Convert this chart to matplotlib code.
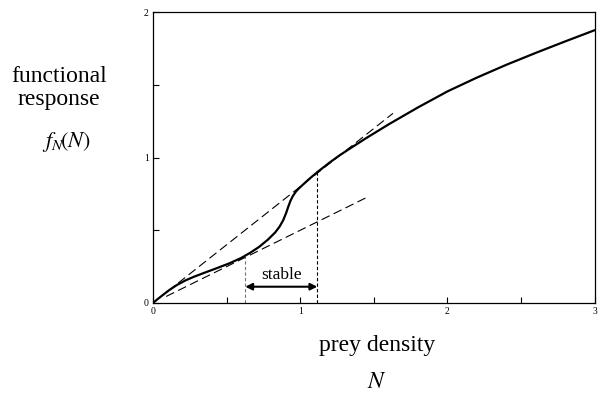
import matplotlib
matplotlib.use("Agg")
import matplotlib.pyplot as plt

# Data
N = [0, 0.035, 0.07, 0.11, 0.16, 0.22, 0.28, 0.35, 0.43, 0.52, 0.6, 0.66, 0.72, 0.78, 0.83,
     0.86, 0.885, 0.905, 0.92, 0.935, 0.95, 0.97, 0.99, 1.02, 1.06, 1.12, 1.2, 1.27, 1.35,
     1.45, 1.6, 1.8, 2.0, 2.2, 2.4, 2.6, 2.8, 3.0]
fN = [0, 0.029, 0.057, 0.088, 0.122, 0.155, 0.181, 0.208, 0.238, 0.273, 0.31, 0.345, 0.385,
      0.435, 0.485, 0.525, 0.57, 0.62, 0.665, 0.705, 0.735, 0.765, 0.787, 0.815, 0.852,
      0.903, 0.966, 1.017, 1.07, 1.135, 1.228, 1.345, 1.455, 1.55, 1.638, 1.72, 1.799, 1.876]
upper_slope = 0.8
upper_range = [0.1, 1.63]
lower_slope = 0.5
lower_range = [0.09, 1.45]
stable_lo, stable_hi = 0.627, 1.116
stable_lo_y, stable_hi_y = 0.315, 0.91
arrow_y = 0.112

plt.rcParams['font.family'] = ['Liberation Serif', 'DejaVu Serif']
plt.rcParams['mathtext.fontset'] = 'stix'

fig = plt.figure(figsize=(6.02, 4.04), dpi=100)
ax = fig.add_axes([0.254, 0.25, 0.734, 0.72])

ax.plot(N, fN, color='black', lw=1.6, solid_joinstyle='round', solid_capstyle='round')
ax.plot(upper_range, [upper_slope * v for v in upper_range], color='black', lw=0.8,
        dashes=(8, 4))
ax.plot(lower_range, [lower_slope * v for v in lower_range], color='black', lw=0.8,
        dashes=(8, 4))
ax.plot([stable_lo, stable_lo], [0, stable_lo_y], color='#777777', lw=0.8, dashes=(3, 2))
ax.plot([stable_hi, stable_hi], [0, stable_hi_y], color='black', lw=0.8, dashes=(3, 2))
ax.annotate('', xy=(stable_lo, arrow_y), xytext=(stable_hi, arrow_y),
            arrowprops=dict(arrowstyle='<|-|>', color='black', lw=1.5,
                            mutation_scale=10, shrinkA=0, shrinkB=0))
ax.text((stable_lo + stable_hi) / 2, 0.19, 'stable', ha='center', va='center', fontsize=12.5)

ax.set_xlim(0, 3)
ax.set_ylim(0, 2)
ax.set_xticks([0, 1, 2, 3])
ax.set_xticks([0.5, 1.5, 2.5], minor=True)
ax.set_yticks([0, 1, 2])
ax.set_yticks([0.5, 1.5], minor=True)
ax.tick_params(which='both', direction='in', labelsize=7, width=0.8)
ax.tick_params(which='major', length=4.5, pad=3)
ax.tick_params(which='minor', length=4.5)
for s in ax.spines.values():
    s.set_linewidth(0.9)

fig.text(59 / 602, 1 - 76 / 404, 'functional', ha='center', va='center', fontsize=17)
fig.text(59 / 602, 1 - 99 / 404, 'response', ha='center', va='center', fontsize=17)
fig.text(66 / 602, 1 - 142 / 404, r'$f_N\!(N)$', ha='center', va='center', fontsize=16)
fig.text(377 / 602, 1 - 345 / 404, 'prey density', ha='center', va='center', fontsize=17)
fig.text(377 / 602, 1 - 383 / 404, r'$N$', ha='center', va='center', fontsize=17)

fig.savefig('out.png', dpi=100)
